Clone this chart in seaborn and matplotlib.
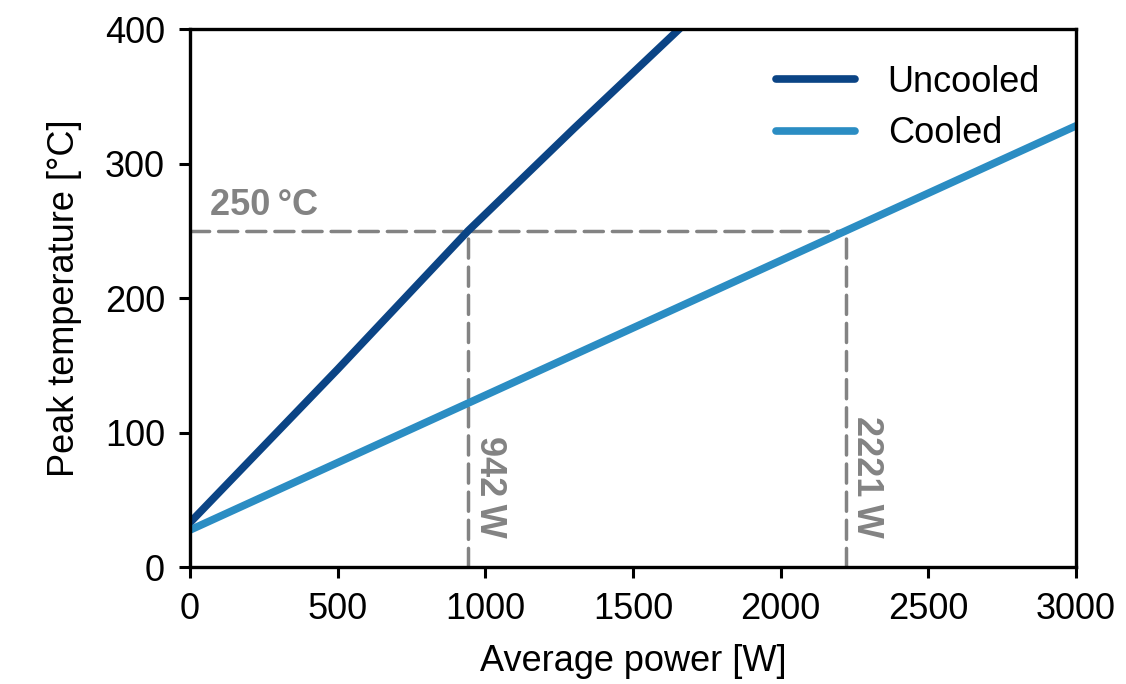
import pandas as pd
import seaborn as sb
import matplotlib
import matplotlib.pyplot as plt
matplotlib.use('Agg')

# values
uncooled_power = [0, 500, 942, 1300, 1700]
uncooled_temp = [33, 147, 250, 326, 409]
cooled_power = [0, 2221, 3000]
cooled_temp = [27.5, 250, 328]

limit_temp = 250
limit_power = [942, 2221]

sb.set_style("ticks")
plt.rcParams['font.family'] = ['Liberation Sans', 'DejaVu Sans']
plt.rcParams['lines.solid_capstyle'] = 'round'
plt.rcParams['text.color'] = 'black'
plt.rcParams['axes.labelcolor'] = 'black'
plt.rcParams['xtick.color'] = 'black'
plt.rcParams['ytick.color'] = 'black'
fs = 26

df = pd.concat([
    pd.DataFrame({"power": uncooled_power, "temp": uncooled_temp, "case": "Uncooled"}),
    pd.DataFrame({"power": cooled_power, "temp": cooled_temp, "case": "Cooled"}),
])

fig = plt.figure(figsize=(11.26, 6.84), dpi=100)
ax = fig.add_axes([0.1687, 0.171, 0.7869, 0.7866])

sb.lineplot(
    data=df,
    x="power",
    y="temp",
    hue="case",
    palette={"Uncooled": "#0b4485", "Cooled": "#2b8dc3"},
    linewidth=5.5,
    sort=False,
    estimator=None,
    ax=ax,
)

grey = "#838383"
dash = dict(color=grey, linewidth=2.5, linestyle=(0, (5.5, 2.6)), dash_capstyle='round', zorder=1)
ax.plot([0, max(limit_power)], [limit_temp, limit_temp], **dash)
for p in limit_power:
    ax.plot([p, p], [0, limit_temp], **dash)
    ax.text(p + 12, 22, f"{p}\u2009W", rotation=-90, ha="left", va="bottom",
            color=grey, fontweight="bold", fontsize=fs)
ax.text(68, 256, f"{limit_temp}\u2009°C", ha="left", va="bottom",
        color=grey, fontweight="bold", fontsize=fs)

ax.set_xlim(0, 3000)
ax.set_ylim(0, 400)
ax.set_xticks(range(0, 3001, 500))
ax.set_yticks(range(0, 401, 100))
ax.set_xlabel("Average power [W]", fontsize=fs, labelpad=12)
ax.set_ylabel("Peak temperature [°C]", fontsize=fs, labelpad=16)
ax.tick_params(width=2.2, length=8, labelsize=fs, pad=10)
for s in ax.spines.values():
    s.set_linewidth(2.4)
    s.set_color("black")

ax.legend(frameon=False, loc="upper right", handlelength=2.2, fontsize=fs,
          borderaxespad=0.6, labelspacing=0.45, handletextpad=0.9)

fig.savefig("out.png", dpi=100)
